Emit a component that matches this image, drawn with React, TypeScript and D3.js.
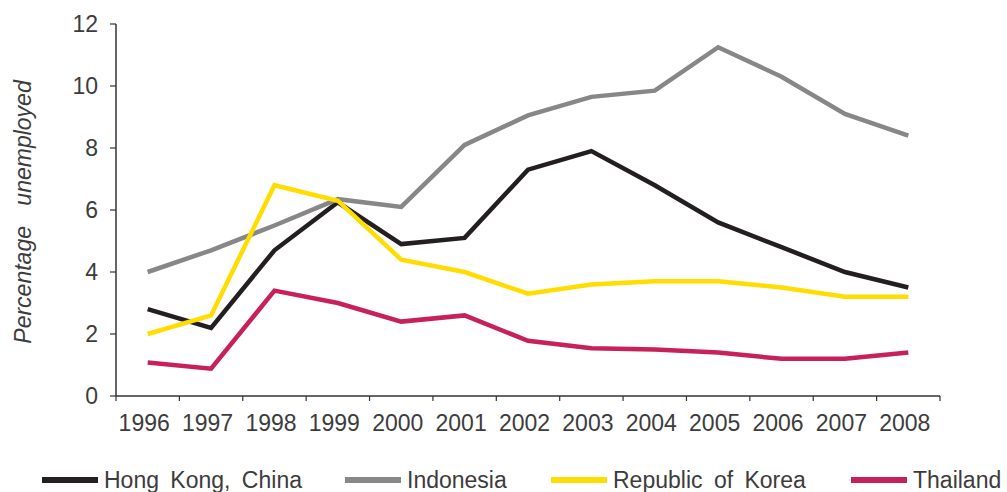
import React from "react";
import * as d3 from "d3";

const years = ["1996","1997","1998","1999","2000","2001","2002","2003","2004","2005","2006","2007","2008"];
const hongKong = [2.8, 2.2, 4.7, 6.25, 4.9, 5.1, 7.3, 7.9, 6.8, 5.6, 4.8, 4.0, 3.5];
const indonesia = [4.0, 4.7, 5.5, 6.35, 6.1, 8.1, 9.05, 9.65, 9.85, 11.25, 10.3, 9.1, 8.4];
const korea = [2.0, 2.6, 6.8, 6.3, 4.4, 4.0, 3.3, 3.6, 3.7, 3.7, 3.5, 3.2, 3.2];
const thailand = [1.08, 0.88, 3.4, 3.0, 2.4, 2.6, 1.78, 1.54, 1.5, 1.4, 1.2, 1.2, 1.4];
const seriesNames = ["Hong Kong, China", "Indonesia", "Republic of Korea", "Thailand"];
const yTicks = [0, 2, 4, 6, 8, 10, 12];

const colors = ["#231f20", "#878787", "#ffdd00", "#c8205a"];
const legendX = [42, 345, 551, 851];

export default function App() {
  const W = 1007, H = 492;
  const x = d3.scaleBand<string>().domain(years).range([116, 940]).paddingInner(0).paddingOuter(0);
  const y = d3.scaleLinear().domain([0, 12]).range([396, 24]);
  const bw = x.bandwidth();
  const data = [hongKong, indonesia, korea, thailand];
  const line = d3.line<number>()
    .x((_, i) => (x(years[i]) as number) + bw / 2)
    .y((v) => y(v));
  const font = "'Liberation Sans', Arial, sans-serif";
  const textColor = "#3c3c3c";
  const edges = years.map((yr) => x(yr) as number).concat([(x(years[years.length - 1]) as number) + bw]);

  return (
    <svg width={W} height={H} style={{ position: "absolute", left: 0, top: 0, background: "#fff" }}
      fontFamily={font}>
      {/* y axis */}
      <line x1={116} x2={116} y1={y(12)} y2={y(0)} stroke="#333" strokeWidth={1.5} />
      {yTicks.map((t) => (
        <g key={t}>
          <line x1={110} x2={116} y1={y(t)} y2={y(t)} stroke="#333" strokeWidth={1.2} />
          <text x={98} y={y(t)} dy="0.35em" textAnchor="end" fontSize={23} fill={textColor}>{t}</text>
        </g>
      ))}
      {/* x axis */}
      <line x1={116} x2={940} y1={y(0)} y2={y(0)} stroke="#333" strokeWidth={1.5} />
      {edges.map((e, i) => (
        <line key={i} x1={e} x2={e} y1={y(0)} y2={y(0) + 5} stroke="#333" strokeWidth={1.2} />
      ))}
      {years.map((yr) => (
        <text key={yr} x={(x(yr) as number) + bw / 2 - 3.5} y={431} textAnchor="middle" fontSize={23} fill={textColor}>{yr}</text>
      ))}
      {/* y label */}
      <text transform={`translate(31, 212) rotate(-90)`} textAnchor="middle" fontSize={23} fontStyle="italic"
        fill={textColor} style={{ wordSpacing: "14px" }}>Percentage unemployed</text>
      {/* lines */}
      {data.map((s, i) => (
        <path key={i} d={line(s) || ""} fill="none" stroke={colors[i]} strokeWidth={4.5}
          strokeLinejoin="miter" strokeLinecap="butt" />
      ))}
      {/* legend */}
      {seriesNames.map((n, i) => (
        <g key={n}>
          <line x1={legendX[i]} x2={legendX[i] + 56} y1={480} y2={480} stroke={colors[i]} strokeWidth={6} />
          <text x={legendX[i] + 62} y={488} fontSize={23} fill={textColor} style={{ wordSpacing: "5px" }}>{n}</text>
        </g>
      ))}
    </svg>
  );
}
